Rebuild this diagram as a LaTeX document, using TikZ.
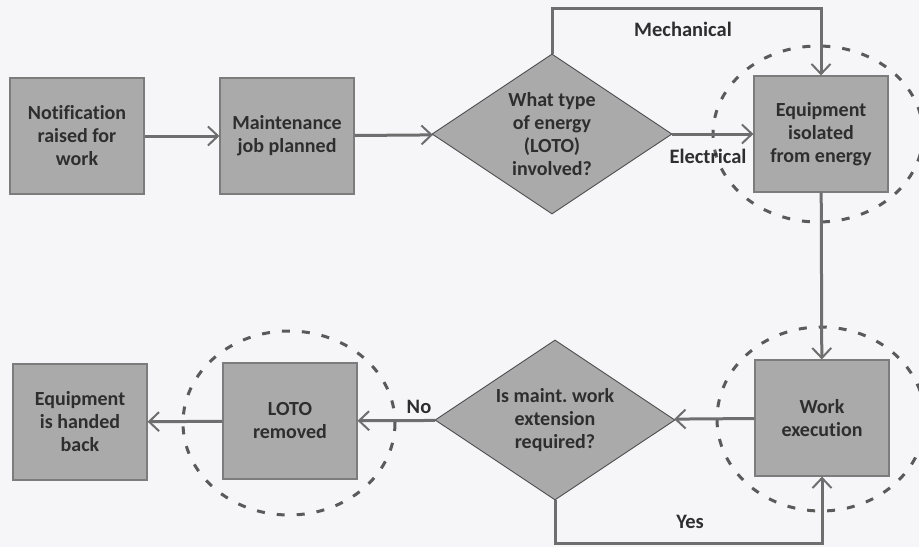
\documentclass[tikz,border=0pt]{standalone}
\usepackage{fontspec}
\setmainfont[Ligatures=NoCommon]{Carlito}
\frenchspacing
\usetikzlibrary{arrows.meta,shapes.geometric}
\definecolor{bg}{HTML}{F6F6F8}
\definecolor{boxfill}{HTML}{AAAAAA}
\definecolor{boxline}{HTML}{7C7C7C}
\definecolor{conn}{HTML}{6E6E6E}
\definecolor{ringcol}{HTML}{5A5A5A}
\definecolor{txt}{HTML}{2E2E2E}
\tikzset{
  stepbox/.style={rectangle, fill=boxfill, draw=boxline, line width=1.2pt,
    minimum width=134pt, minimum height=116pt, inner sep=0pt,
    align=center, text=txt, font=\fontsize{20}{23}\selectfont\bfseries},
  decision/.style={diamond, fill=boxfill, draw=black!70, line width=0.9pt,
    minimum width=240pt, minimum height=160pt, inner sep=0pt, aspect=1.5,
    align=center, text=txt, font=\fontsize{20}{23}\selectfont\bfseries},
  flow/.style={draw=conn, line width=3pt,
    -{Straight Barb[length=10pt,width=19pt,line width=2pt]}},
  ring/.style={draw=ringcol, line width=3pt, dash pattern=on 8pt off 12pt},
  lbl/.style={text=txt, font=\fontsize{20.5}{24}\selectfont\bfseries, inner sep=0pt}
}
\begin{document}
\begin{tikzpicture}[x=1pt,y=-1pt]
  % canvas
  \fill[bg] (0,0) rectangle (919,547);
  \useasboundingbox (0,0) rectangle (919,547);

  % top row
  \node[stepbox] (notif) at (77,136) {Notification\\raised for\\work};
  \node[stepbox] (plan) at (287,136) {Maintenance\\job planned};
  \node[decision] (energy) at (552,134) {What type\\of energy\\(LOTO)\\involved?};
  \node[stepbox] (isol) at (821,134) {Equipment\\isolated\\from energy};

  % bottom row
  \node[stepbox] (exec) at (822,418) {Work\\execution};
  \node[decision] (ext) at (555,420) {Is maint. work\\extension\\required?};
  \node[stepbox] (loto) at (290,421) {LOTO\\removed};
  \node[stepbox] (back) at (80,422) {Equipment\\is handed\\back};

  % dashed rings marking the LOTO-related steps
  \draw[ring] (818,134) ellipse [x radius=105, y radius=88];
  \draw[ring] (821,419) ellipse [x radius=104, y radius=92];
  \draw[ring] (289,423) ellipse [x radius=106, y radius=92];

  % turning points of the routed connectors
  \coordinate (mechA) at (energy.north |- 0,8);
  \coordinate (mechB) at (isol.north |- 0,8);
  \coordinate (yesA) at (ext.south |- 0,543);
  \coordinate (yesB) at (exec.south |- 0,543);

  % connectors
  \draw[flow] (notif) -- (plan);
  \draw[flow] (plan) -- (energy);
  \draw[flow] (energy) -- (isol);
  \draw[flow] (energy.north) -- (mechA) -- (mechB) -- (isol.north);
  \draw[flow] (isol) -- (exec);
  \draw[flow] (exec) -- (ext);
  \draw[flow] (ext.south) -- (yesA) -- (yesB) -- (exec.south);
  \draw[flow] (ext) -- (loto);
  \draw[flow] (loto) -- (back);

  % branch labels
  \node[lbl] (lmech) at (683,29) {Mechanical};
  \node[lbl] (lelec) at (708,156) {Electrical};
  \node[lbl] (lyes) at (690,522) {Yes};
  \node[lbl] (lno) at (419,407) {No};
\end{tikzpicture}
\end{document}
